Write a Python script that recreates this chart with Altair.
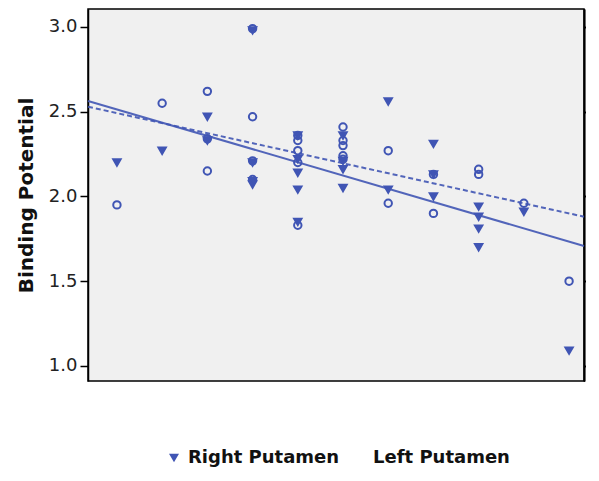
import altair as alt
import pandas as pd

groups = ["Right Putamen", "Left Putamen"]

right_x = [2, 3, 4, 4, 5, 5, 5, 5, 6, 6, 6, 6, 6, 7, 7, 7, 7, 8, 8, 9, 9, 9, 10, 10, 10, 10, 11, 12]
right_y = [2.20, 2.27, 2.47, 2.33, 2.98, 2.20, 2.09, 2.07, 2.36, 2.22, 2.14, 2.04, 1.85,
           2.36, 2.21, 2.16, 2.05, 2.56, 2.04, 2.31, 2.13, 2.00, 1.94, 1.88, 1.81, 1.70, 1.91, 1.09]

left_x = [2, 3, 4, 4, 4, 5, 5, 5, 5, 6, 6, 6, 6, 6, 7, 7, 7, 7, 7, 8, 8, 9, 9, 10, 10, 11, 12]
left_y = [1.95, 2.55, 2.62, 2.34, 2.15, 2.99, 2.47, 2.21, 2.10, 2.36, 2.33, 2.27, 2.20, 1.83,
          2.41, 2.33, 2.30, 2.24, 2.22, 2.27, 1.96, 2.13, 1.90, 2.16, 2.13, 1.96, 1.50]

x_ticks = [2, 4, 6, 8, 10, 12]
y_ticks = [1.0, 1.5, 2.0, 2.5, 3.0]
x_domain = [1.36, 12.33]
y_domain = [0.911, 3.106]

df = pd.DataFrame({
    "Lie": right_x + left_x,
    "BP": right_y + left_y,
    "Group": [groups[0]] * len(right_x) + [groups[1]] * len(left_x),
})

blue = "#4055b4"
font = "DejaVu Sans"

x_scale = alt.Scale(domain=x_domain, nice=False, zero=False)
y_scale = alt.Scale(domain=y_domain, nice=False, zero=False)

x_enc = alt.X("Lie:Q", scale=x_scale,
              axis=alt.Axis(values=x_ticks, title="Lie Scale", titlePadding=11, labelPadding=6))
y_enc = alt.Y("BP:Q", scale=y_scale,
              axis=alt.Axis(values=y_ticks, format=".1f", title="Binding Potential", titlePadding=12, labelPadding=3))

legend = alt.Legend(title=None, orient="none", legendX=77, legendY=440, direction="horizontal", padding=0)

line_right = alt.Chart(df).transform_filter(
    alt.datum.Group == groups[0]
).transform_regression(
    "Lie", "BP", extent=x_domain
).mark_line(color=blue, strokeWidth=2, opacity=0.9).encode(x=x_enc, y=y_enc)

line_left = alt.Chart(df).transform_filter(
    alt.datum.Group == groups[1]
).transform_regression(
    "Lie", "BP", extent=x_domain
).mark_line(color=blue, strokeWidth=2, opacity=0.9, strokeDash=[5, 3]).encode(x=x_enc, y=y_enc)

points = alt.Chart(df).mark_point(strokeWidth=2, size=55, opacity=1, stroke=blue).encode(
    x=x_enc, y=y_enc,
    shape=alt.Shape("Group:N", scale=alt.Scale(domain=groups, range=["triangle-down", "circle"]), legend=legend),
    fill=alt.Fill("Group:N", scale=alt.Scale(domain=groups, range=[blue, "transparent"]), legend=legend),
)

# right-hand frame line drawn as an axis domain on the shared y scale
right_frame = alt.Chart(df).mark_point(opacity=0).encode(
    x=alt.X("Lie:Q", scale=x_scale, axis=None),
    y=alt.Y("BP:Q", scale=y_scale,
            axis=alt.Axis(orient="right", labels=False, ticks=False, title=None, domain=True, grid=False)),
)

chart = alt.layer(line_right, line_left, points, right_frame).resolve_axis(
    y="independent"
).properties(
    width=496, height=372,
    autosize=alt.AutoSizeParams(type="none"),
    padding={"left": 80, "top": 1, "right": 2, "bottom": 89},
).configure_view(
    fill="#f0f0f0", stroke="black", strokeWidth=1.5
).configure_axis(
    grid=False, domainColor="black", domainWidth=1.5, tickColor="black", tickWidth=1.5, tickSize=8,
    labelFont=font, labelFontSize=18, labelColor="#222",
    titleFont=font, titleFontSize=20, titleFontWeight="bold", titleColor="#111",
).configure_legend(
    labelFont=font, labelFontSize=18, labelFontWeight="bold", labelColor="#111",
    symbolSize=100, symbolStrokeWidth=2, symbolStrokeColor=blue,
    columnPadding=10, labelOffset=5,
)

chart.save("out.html", embed_options={"renderer": "svg", "actions": False})
